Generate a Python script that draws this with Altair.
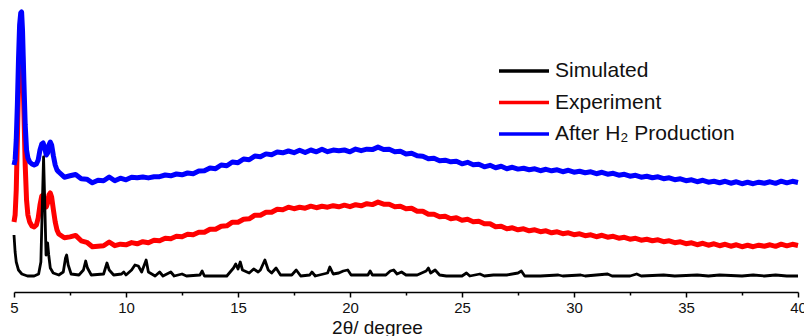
import altair as alt
import pandas as pd

SERIES = ["Simulated", "Experiment", "After H₂ Production"]
COLORS = ["#000000", "#ff0000", "#0000ff"]
TICKS = [5, 7.5, 10, 12.5, 15, 17.5, 20, 22.5, 25, 27.5, 30, 32.5, 35, 37.5, 40]

# low-angle region (2θ)
PEAK_X = [5.00, 5.05, 5.10, 5.15, 5.20, 5.25, 5.30, 5.34, 5.38, 5.44, 5.50, 5.56,
          5.62, 5.70, 5.80, 5.90, 6.00, 6.08, 6.16, 6.24, 6.30, 6.36, 6.44, 6.50,
          6.56, 6.62, 6.68, 6.76, 6.84, 6.92, 7.00]
BLUE_PEAK = [1270, 1320, 1520, 1870, 2320, 2670, 2790, 2800, 2620, 2120, 1670, 1420,
             1340, 1300, 1280, 1270, 1280, 1320, 1420, 1480, 1490, 1450, 1370, 1390,
             1470, 1500, 1470, 1360, 1270, 1220, 1200]
RED_PEAK = [700, 770, 1020, 1520, 2020, 2420, 2540, 2550, 2370, 1820, 1270, 920,
            770, 700, 660, 650, 670, 740, 870, 960, 970, 920, 850, 890,
            970, 990, 950, 820, 700, 620, 580]

# broad region (2θ)
GRID_X = [7.25, 7.5, 7.75, 8.0, 8.25, 8.5, 8.75, 9.0, 9.25, 9.5, 9.75, 10.0,
          10.25, 10.5, 10.75, 11.0, 11.25, 11.5, 11.75, 12.0, 12.25, 12.5, 12.75, 13.0,
          13.25, 13.5, 13.75, 14.0, 14.25, 14.5, 14.75, 15.0, 15.25, 15.5, 15.75, 16.0,
          16.25, 16.5, 16.75, 17.0, 17.25, 17.5, 17.75, 18.0, 18.25, 18.5, 18.75, 19.0,
          19.25, 19.5, 19.75, 20.0, 20.25, 20.5, 20.75, 21.0, 21.25, 21.5, 21.75, 22.0,
          22.25, 22.5, 22.75, 23.0, 23.25, 23.5, 23.75, 24.0, 24.25, 24.5, 24.75, 25.0,
          25.25, 25.5, 25.75, 26.0, 26.25, 26.5, 26.75, 27.0, 27.25, 27.5, 27.75, 28.0,
          28.25, 28.5, 28.75, 29.0, 29.25, 29.5, 29.75, 30.0, 30.25, 30.5, 30.75, 31.0,
          31.25, 31.5, 31.75, 32.0, 32.25, 32.5, 32.75, 33.0, 33.25, 33.5, 33.75, 34.0,
          34.25, 34.5, 34.75, 35.0, 35.25, 35.5, 35.75, 36.0, 36.25, 36.5, 36.75, 37.0,
          37.25, 37.5, 37.75, 38.0, 38.25, 38.5, 38.75, 39.0, 39.25, 39.5, 39.75, 40.0]
BLUE_GRID = [1148, 1162, 1175, 1132, 1128, 1092, 1118, 1112, 1150, 1112, 1138, 1122,
             1148, 1142, 1150, 1141, 1152, 1153, 1170, 1162, 1180, 1172, 1190, 1183,
             1210, 1212, 1240, 1233, 1270, 1262, 1300, 1293, 1330, 1322, 1360, 1352,
             1381, 1373, 1400, 1392, 1410, 1393, 1418, 1395, 1420, 1402, 1428, 1403,
             1419, 1412, 1420, 1402, 1429, 1413, 1428, 1424, 1449, 1425, 1427, 1402,
             1408, 1381, 1388, 1362, 1358, 1332, 1338, 1313, 1318, 1302, 1308, 1282,
             1297, 1273, 1278, 1252, 1267, 1243, 1257, 1233, 1247, 1229, 1237, 1223,
             1232, 1213, 1227, 1212, 1222, 1203, 1217, 1198, 1207, 1193, 1202, 1183,
             1197, 1178, 1187, 1168, 1177, 1158, 1167, 1148, 1157, 1143, 1152, 1133,
             1142, 1123, 1132, 1113, 1122, 1103, 1117, 1098, 1107, 1093, 1107, 1088,
             1102, 1083, 1097, 1083, 1098, 1088, 1102, 1087, 1108, 1092, 1107, 1095]
RED_GRID = [542, 551, 566, 512, 497, 452, 458, 462, 500, 463, 478, 472,
            494, 482, 503, 492, 518, 512, 538, 533, 558, 552, 578, 572,
            598, 597, 628, 627, 658, 662, 698, 697, 728, 732, 768, 767,
            798, 797, 828, 822, 848, 833, 847, 838, 858, 843, 857, 848,
            863, 852, 868, 853, 873, 862, 883, 874, 899, 878, 877, 852,
            858, 832, 838, 808, 808, 777, 778, 752, 758, 732, 742, 717,
            727, 703, 708, 682, 683, 652, 658, 632, 642, 622, 632, 612,
            622, 603, 612, 592, 602, 583, 592, 573, 582, 563, 572, 553,
            567, 548, 557, 538, 547, 528, 537, 518, 527, 513, 522, 503,
            512, 493, 502, 483, 492, 473, 487, 468, 482, 463, 477, 458,
            472, 453, 467, 453, 468, 458, 472, 457, 478, 462, 477, 465]

# simulated pattern
SIM_X = [5.00, 5.05, 5.10, 5.20, 5.35, 5.60, 5.90, 6.10, 6.20, 6.27, 6.32, 6.37,
         6.43, 6.50, 6.55, 6.62, 6.75, 7.00, 7.20, 7.30, 7.35, 7.42, 7.55, 7.90,
         8.10, 8.20, 8.28, 8.45, 9.00, 9.15, 9.25, 9.45, 9.80, 9.90, 10.00, 10.25,
         10.40, 10.55, 10.70, 10.90, 11.00, 11.30, 11.50, 11.65, 12.00, 12.15, 12.50, 12.70,
         13.30, 13.40, 13.50, 14.50, 14.80, 14.90, 15.00, 15.10, 15.20, 15.50, 15.70, 15.90,
         16.00, 16.20, 16.35, 16.50, 16.70, 16.90, 17.40, 17.60, 17.80, 18.20, 18.30, 18.45,
         19.00, 19.10, 19.25, 19.50, 19.70, 19.90, 20.05, 20.80, 20.90, 21.00, 21.60, 21.80,
         21.95, 22.10, 22.30, 22.50, 23.00, 23.40, 23.50, 23.60, 23.80, 24.00, 24.30, 25.00,
         25.20, 25.35, 25.80, 26.00, 26.40, 27.00, 27.50, 27.65, 27.80, 28.50, 29.30, 29.50,
         30.30, 30.50, 31.00, 31.50, 31.70, 32.50, 32.80, 33.00, 34.00, 34.50, 35.50, 36.00,
         36.50, 37.50, 38.00, 38.50, 39.00, 39.50, 40.00]
SIM_Y = [570, 400, 300, 220, 180, 160, 160, 180, 300, 920, 1350, 920,
         370, 490, 370, 240, 190, 170, 200, 340, 370, 270, 180, 170,
         220, 310, 240, 170, 180, 290, 220, 170, 180, 200, 170, 220,
         270, 260, 200, 320, 200, 160, 200, 160, 200, 160, 180, 160,
         170, 210, 160, 160, 240, 280, 230, 300, 220, 190, 230, 200,
         220, 320, 220, 190, 240, 170, 170, 220, 160, 170, 200, 160,
         190, 250, 180, 190, 210, 220, 170, 170, 210, 170, 170, 210,
         220, 180, 200, 170, 170, 210, 240, 190, 220, 170, 160, 160,
         190, 160, 180, 160, 170, 170, 190, 210, 160, 160, 170, 160,
         170, 160, 170, 180, 160, 160, 180, 160, 170, 160, 170, 160,
         170, 160, 170, 160, 170, 160, 160]

FONT = "Liberation Sans, Arial, Helvetica, sans-serif"

sim_df = pd.DataFrame({"theta": SIM_X, "intensity": SIM_Y, "series": SERIES[0]})
red_df = pd.DataFrame({"theta": PEAK_X + GRID_X, "intensity": RED_PEAK + RED_GRID,
                       "series": SERIES[1]})
blue_df = pd.DataFrame({"theta": PEAK_X + GRID_X, "intensity": BLUE_PEAK + BLUE_GRID,
                        "series": SERIES[2]})

x_enc = alt.X(
    "theta:Q",
    scale=alt.Scale(domain=[5, 40], nice=False, zero=False),
    axis=alt.Axis(
        values=TICKS,
        format="~g",
        labelExpr="datum.value % 5 === 0 ? datum.label : ''",
        tickSize={"condition": {"test": "datum.value % 5 !== 0", "value": 3}, "value": 5},
        grid=False,
        domainColor="#000000",
        domainWidth=1.5,
        tickColor="#000000",
        tickWidth=1.5,
        labelFont=FONT,
        labelFontSize=15,
        labelColor="#111111",
        labelPadding=3,
        labelFlush=False,
        labelOverlap=False,
        title="2θ/ degree",
        titleFont=FONT,
        titleFontSize=19,
        titleFontWeight="normal",
        titleColor="#111111",
        titleX=363,
        titleY=41,
        titleAlign="center",
        titleBaseline="alphabetic",
    ),
)
y_enc = alt.Y("intensity:Q", scale=alt.Scale(domain=[0, 2870], nice=False), axis=None)

legend = alt.Legend(
    title=None,
    orient="none",
    legendX=483,
    legendY=55,
    symbolType="stroke",
    symbolSize=2500,
    symbolStrokeWidth=3.5,
    clipHeight=22,
    labelFont=FONT,
    labelFontSize=21,
    labelColor="#111111",
    labelLimit=400,
    labelOffset=4,
    rowPadding=9.5,
    padding=0,
)
color_enc = alt.Color("series:N", scale=alt.Scale(domain=SERIES, range=COLORS), legend=legend)

red = alt.Chart(red_df).mark_line(strokeWidth=5, strokeJoin="round").encode(
    x=x_enc, y=y_enc, color=color_enc)
blue = alt.Chart(blue_df).mark_line(strokeWidth=5, strokeJoin="round").encode(
    x=x_enc, y=y_enc, color=color_enc)
sim = alt.Chart(sim_df).mark_line(strokeWidth=2.8, strokeJoin="round").encode(
    x=x_enc, y=y_enc, color=color_enc)

chart = alt.layer(red, blue, sim).properties(
    width=784,
    height=287,
    autosize=alt.AutoSizeParams(type="none"),
    padding={"left": 14, "top": 5, "right": 6, "bottom": 44},
    background="white",
).configure_view(stroke=None)

chart.save("out.html", embed_options={"renderer": "svg", "actions": False})
